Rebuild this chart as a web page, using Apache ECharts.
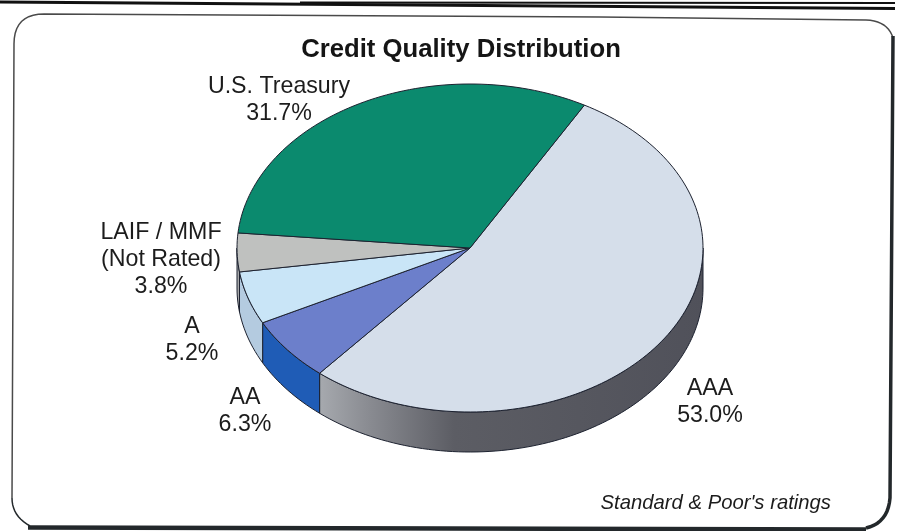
<!DOCTYPE html>
<html>
<head>
<meta charset="utf-8">
<style>html,body{margin:0;padding:0;background:#fff}#chart{width:899px;height:531px}</style>
<script src="https://cdn.jsdelivr.net/npm/echarts@6/dist/echarts.min.js"></script>
</head>
<body>
<div id="chart"></div>
<script>
// Portfolio shares, clockwise from the top-right edge of the AAA slice
const categories = ['AAA', 'AA', 'A', 'LAIF / MMF\n(Not Rated)', 'U.S. Treasury'];
const shares = [53.0, 6.3, 5.2, 3.8, 31.7];
const topColors = ['#d5deea', '#6c7fcb', '#c9e5f7', '#bfc1bf', '#0b8a6e'];
const titleText = 'Credit Quality Distribution';
const noteText = "Standard & Poor's ratings";

// Tilted disc geometry
const CX = 470, CY = 248, RX = 233, RY = 164, DEPTH = 40;
const START_DEG = 60.6;
const FONT = '"Liberation Sans", Arial, sans-serif';

const sideFills = [
  { type: 'linear', x: 320, y: 0, x2: 703, y2: 0, global: true, colorStops: [
    { offset: 0, color: '#a6a9ae' }, { offset: 0.12, color: '#8b8d93' },
    { offset: 0.35, color: '#5c5d64' }, { offset: 1, color: '#50515a' }] },
  '#1f5cb6', '#b4cbe0', '#a9abac', '#0a6b56'
];
// Text anchor of each slice's label, as offsets from the disc centre
const labelOffsets = [[240, 154.5], [-225, 163.5], [-278, 92.5], [-309, 12], [-191, -147.5]];

const toRad = d => d * Math.PI / 180;
const rim = (deg, drop) => [CX + RX * Math.cos(toRad(deg)), CY - RY * Math.sin(toRad(deg)) + drop];
function arcPoints(from, to, drop) {
  const n = Math.max(2, Math.ceil(Math.abs(from - to) / 1.5));
  const pts = [];
  for (let i = 0; i <= n; i++) pts.push(rim(from + (to - from) * i / n, drop));
  return pts;
}

const total = shares.reduce((a, b) => a + b, 0);
const spans = [];
shares.reduce((deg, v) => {
  const end = deg - v / total * 360;
  spans.push([deg, end]);
  return end;
}, START_DEG);

function renderSlice(params, api) {
  const i = params.dataIndex;
  const [from, to] = spans[i];
  const children = [];
  const edge = { stroke: '#1d2230', lineWidth: 1, lineJoin: 'round' };

  // Outer wall: only the part of the rim facing the viewer (0 to -180 degrees)
  const wallFrom = Math.min(from, 0), wallTo = Math.max(to, -180);
  if (wallFrom > wallTo) {
    const upper = arcPoints(wallFrom, wallTo, 0);
    const lower = arcPoints(wallTo, wallFrom, DEPTH);
    children.push({
      type: 'polygon',
      shape: { points: upper.concat(lower) },
      style: { fill: sideFills[i], ...edge }
    });
  }
  // Top face
  children.push({
    type: 'polygon',
    shape: { points: [[CX, CY]].concat(arcPoints(from, to, 0)) },
    style: { fill: topColors[i], ...edge }
  });
  // Name and percentage
  children.push({
    type: 'text',
    style: {
      x: CX + labelOffsets[i][0], y: CY + labelOffsets[i][1],
      text: api.value(1) + '\n' + api.value(0).toFixed(1) + '%',
      font: '400 23.2px ' + FONT, lineHeight: 27,
      fill: '#1c1c1c', align: 'center', verticalAlign: 'middle'
    }
  });
  return { type: 'group', children };
}

// Rounded panel corner as a quadratic curve
function corner(a, c, b) {
  const pts = [];
  for (let k = 0; k <= 10; k++) {
    const t = k / 10, u = 1 - t;
    pts.push([u * u * a[0] + 2 * u * t * c[0] + t * t * b[0], u * u * a[1] + 2 * u * t * c[1] + t * t * b[1]]);
  }
  return pts;
}
const thinEdge = corner([12, 498], [13, 270], [14, 44]).concat(corner([14, 44], [14, 14], [44, 14]), [[600, 17]], corner([866, 20], [888, 21], [893, 38]));
const rightEdge = [[893, 36]].concat(corner([890, 498], [888, 523], [866, 528]));
const leftBottom = corner([12, 498], [12, 516], [30, 526]);

const chart = echarts.init(document.getElementById('chart'), null, { renderer: 'canvas' });
chart.setOption({
  animation: false,
  backgroundColor: '#ffffff',
  title: {
    text: titleText, left: 456, top: 32, textAlign: 'center',
    textStyle: { fontFamily: FONT, fontSize: 25.7, fontWeight: 'bold', color: '#151515' }
  },
  series: [{
    type: 'custom',
    coordinateSystem: 'none',
    data: shares.map((v, i) => [v, categories[i]]),
    dimensions: [{ name: 'share', type: 'number' }, { name: 'category', type: 'ordinal' }],
    renderItem: renderSlice,
    silent: true
  }],
  graphic: [
    // Double rule along the top of the page
    { type: 'line', shape: { x1: 300, y1: 2.5, x2: 895, y2: 3 }, style: { stroke: '#111', lineWidth: 2 } },
    { type: 'line', shape: { x1: 0, y1: 2, x2: 895, y2: 8.5 }, style: { stroke: '#111', lineWidth: 3 } },
    // Panel outline: thin top and left, heavier right and bottom
    { type: 'polyline', shape: { points: thinEdge }, style: { fill: 'none', stroke: '#4a4a4a', lineWidth: 1.5 } },
    { type: 'polyline', shape: { points: rightEdge }, style: { fill: 'none', stroke: '#23282b', lineWidth: 3.5 } },
    { type: 'polyline', shape: { points: leftBottom }, style: { fill: 'none', stroke: '#23282b', lineWidth: 1.5 } },
    { type: 'line', shape: { x1: 28, y1: 527.5, x2: 866, y2: 529.5 }, style: { stroke: '#23282b', lineWidth: 4.5 } },
    { type: 'text', style: { x: 831, y: 503, text: noteText, font: 'italic 400 20.3px ' + FONT,
      fill: '#1c1c1c', align: 'right', verticalAlign: 'middle' } }
  ]
});
</script>
</body>
</html>
